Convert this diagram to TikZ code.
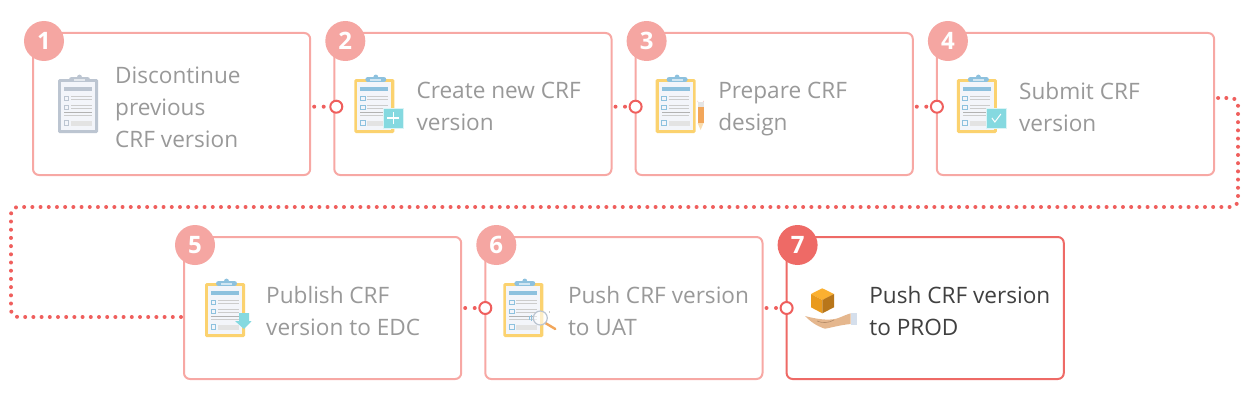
\documentclass[tikz,border=0pt]{standalone}
\usepackage{fontspec}
\setmainfont{Open Sans}
\usepackage{xcolor}
\usetikzlibrary{positioning,calc}

\definecolor{boxred}{HTML}{F7A8A4}
\definecolor{badgered}{HTML}{F5A6A2}
\definecolor{hotred}{HTML}{EE6A66}
\definecolor{dotred}{HTML}{EF5F5D}
\definecolor{textgray}{HTML}{999999}
\definecolor{boardyellow}{HTML}{FBD26F}
\definecolor{boardgray}{HTML}{BCC5D1}
\definecolor{headblue}{HTML}{8DC1DE}
\definecolor{teal}{HTML}{85D9E0}
\definecolor{paper}{HTML}{F3F5FA}
\definecolor{pencil}{HTML}{F2A65A}
\definecolor{pencilwood}{HTML}{F9DDB0}
\definecolor{cubetop}{HTML}{FBB030}
\definecolor{cubeleft}{HTML}{E99A1E}
\definecolor{cuberight}{HTML}{B8761A}
\definecolor{skin}{HTML}{E5B78E}
\definecolor{skinline}{HTML}{B58C68}
\definecolor{cuff}{HTML}{D5DFEC}
\definecolor{handle}{HTML}{F2A65A}

\tikzset{
  pics/clipboard/.style 2 args={code={
    \fill[#1, rounded corners=1.5] (0,0) rectangle (40,54);
    \fill[#2, rounded corners=2.5] (11,3) rectangle (32,-2);
    \fill[#2] (21.5,-2) circle (2.4);
    \fill[white!60!#2] (16,0) rectangle (27,1.5);
    \fill[paper] (3,3) rectangle (37,51);
    \fill[#2] (6,8) rectangle (34,11.5);
    \foreach \ty in {17,26,41.5}
      \draw[#2, line width=.9] (6,\ty) rectangle (10.7,\ty+4.8);
    \foreach \ty in {17.8,20.5,26.8,29.8,36}
      \draw[gray!40, line width=1] (13,\ty) -- (33.5,\ty);
    \draw[gray!40, line width=1] (6,36) -- (13,36);
    \fill[gray!60] (6,32.6) rectangle (34,34.4);
    \fill[gray!22] (13,41.5) rectangle (34,46.5);
  }},
  pics/tealsquare/.style={code={
    \draw[fill=teal, draw=white!70!teal, line width=.7] (29,29) rectangle (49,49);
  }}
}

\begin{document}
\begin{tikzpicture}[x=1pt, y=-1pt, node distance=24.1pt]
    \tikzstyle{stepbox} = [rectangle, draw=boxred, line width=2pt, rounded corners=6pt,
               minimum width=277.2pt, minimum height=142pt, outer sep=0pt, fill=white]
    \tikzstyle{steptext} = [inner sep=0pt, align=left, anchor=west, text=textgray,
               font=\fontsize{22.6}{32}\selectfont,
               execute at begin node=\strut, execute at end node=\strut]
    \tikzstyle{badge} = [circle, fill=badgered, minimum size=40pt, inner sep=0pt, text=white,
               font=\bfseries\fontsize{24}{24}\selectfont]
    \tikzstyle{ringdot} = [circle, draw=dotred, line width=2pt, fill=white, minimum size=12pt,
               inner sep=0pt, outer sep=0pt]
    \tikzstyle{dotline} = [draw=dotred, line width=4pt, line cap=round]

    \useasboundingbox (0,0) rectangle (1247,412);

    % Steps
    \node[stepbox] (box1) at (171.6,104) {};
    \node[stepbox, right=of box1] (box2) {};
    \node[stepbox, right=of box2] (box3) {};
    \node[stepbox, right=of box3] (box4) {};
    \node[stepbox] (box5) at (322.6,308) {};
    \node[stepbox, right=of box5] (box6) {};
    \node[stepbox, right=of box6, draw=hotred] (box7) {};

    % Connectors
    \foreach \a/\b/\dx/\dy in {1/2/2/2.7, 2/3/0/2.7, 3/4/0/2.7, 5/6/0/0, 6/7/0/0} {
      \coordinate (out\a) at ($(box\a.east)+(4,\dy)$);
      \node[ringdot] (ring\b) at ($(box\b.west)+(\dx,\dy)$) {};
      \draw[dotline, dash pattern=on 0pt off 9.5pt] (out\a) -- (ring\b.west);
    }

    \coordinate (out4) at ($(box4.east)+(4,-6)$);
    \coordinate (turn1) at (1238,98);
    \coordinate (turn2) at (1238,207);
    \coordinate (turn3) at (11,207);
    \coordinate (turn4) at (11,317);
    \coordinate (in5) at ($(box5.west)+(1,9)$);
    \draw[dotline, dash pattern=on 0pt off 8.2pt, rounded corners=7pt]
      (out4) -- (turn1) -- (turn2) -- (turn3) -- (turn4) -- (in5);

    % Badges
    \foreach \n in {1,...,6}
      \node[badge] (badge\n) at ($(box\n.north west)+(11,8)$) {\n};
    \node[badge, fill=hotred] (badge7) at ($(box7.north west)+(11,8)$) {7};

    % Texts
    \node[steptext] (text1) at ($(box1.west)+(82,7.6)$) {Discontinue\\previous\\CRF version};
    \node[steptext] (text2) at ($(box2.west)+(82,7.6)$) {Create new CRF\\version};
    \node[steptext] (text3) at ($(box3.west)+(82.5,7.6)$) {Prepare CRF\\design};
    \node[steptext] (text4) at ($(box4.west)+(82,7.6)$) {Submit CRF\\version};
    \node[steptext] (text5) at ($(box5.west)+(82,7.6)$) {Publish CRF\\version to EDC};
    \node[steptext] (text6) at ($(box6.west)+(82.5,7.6)$) {Push CRF version\\to UAT};
    \node[steptext, text=black!75] (text7) at ($(box7.west)+(82.5,7.6)$) {Push CRF version\\to PROD};

    % Icons
    \coordinate (icon1) at ($(box1.north west)+(25,46)$);
    \coordinate (icon2) at ($(box2.north west)+(20,46)$);
    \coordinate (icon3) at ($(box3.north west)+(20,46)$);
    \coordinate (icon4) at ($(box4.north west)+(20,46)$);
    \coordinate (icon5) at ($(box5.north west)+(21,46)$);
    \coordinate (icon6) at ($(box6.north west)+(18,46)$);
    \pic at (icon1) {clipboard={boardgray}{boardgray}};
    \foreach \n in {2,...,6}
      \pic at (icon\n) {clipboard={boardyellow}{headblue}};

    % plus
    \pic at (icon2) {tealsquare};
    \draw[white, line width=1.6, shift={(icon2)}] (33,39) -- (45,39) (39,33) -- (39,45);
    % pencil
    \begin{scope}[shift={(icon3)}]
      \fill[boxred] (42,23) -- (42,21.5) arc (180:0:3) -- (48,23) -- cycle;
      \fill[gray!20] (42,23) rectangle (48,28);
      \fill[pencil] (42,28) rectangle (48,44);
      \fill[pencilwood] (42,44) -- (48,44) -- (45,51) -- cycle;
    \end{scope}
    % check
    \pic at (icon4) {tealsquare};
    \draw[white, line width=1, shift={(icon4)}] (35,39) -- (38,43) -- (44,35);
    % download arrow
    \fill[teal, shift={(icon5)}] (34,30) -- (44,30) -- (44,38) -- (46.7,38) -- (39,46)
      -- (30,38) -- (34,38) -- cycle;
    % magnifier
    \begin{scope}[shift={(icon6)}]
      \draw[handle, line width=2.4, line cap=round] (42,40) -- (52,46);
      \draw[boardgray, line width=1.2, fill=white, fill opacity=.6] (37,35) circle (7);
      \draw[headblue, line width=.7] (26,33) -- (26,37) (28,32) -- (28,38);
      \draw[gray!40, line width=.7] (46,28) arc (-30:30:2);
    \end{scope}
    % cube on hand
    \fill[cubetop] (822.3,288.3) -- (834,294) -- (822.3,300) -- (811,294) -- cycle;
    \fill[cubeleft] (811,294) -- (822.3,300) -- (822.3,313.3) -- (811,307.3) -- cycle;
    \fill[cuberight] (834,294) -- (822.3,300) -- (822.3,313.3) -- (834,307.3) -- cycle;
    \fill[cuff] (850.7,312.7) rectangle (856.7,325);
    \fill[skin] (850.7,313.3) .. controls (842,316) and (838,319) .. (833,319.3)
      .. controls (826,320) and (818,319.5) .. (805,316)
      .. controls (810,321) and (816,326) .. (825,328.7)
      .. controls (832,327.5) and (840,325) .. (850.7,324) -- cycle;
    \draw[skinline, line width=.6] (817,321) .. controls (823,323.5) and (828,323) .. (834,320);
\end{tikzpicture}
\end{document}
